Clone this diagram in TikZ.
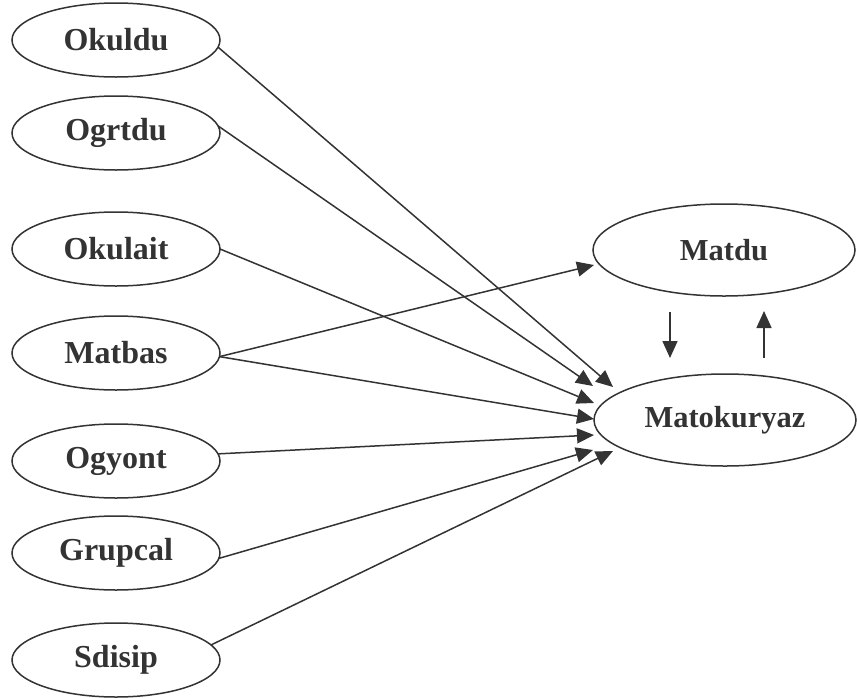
\documentclass[tikz,border=0pt]{standalone}
\usepackage{fontspec}
\setmainfont{Liberation Serif}
\usetikzlibrary{shapes.geometric,arrows.meta}
\definecolor{ink}{HTML}{333333}
\tikzset{
  var/.style={ellipse,draw=ink,line width=1.5pt,text=ink,font=\fontsize{32}{32}\selectfont\bfseries,
    minimum width=208pt,minimum height=74pt,inner sep=0pt,outer sep=0pt},
  bigvar/.style={var,minimum width=262pt,minimum height=92pt,font=\fontsize{30.5}{30.5}\selectfont\bfseries},
  path/.style={draw=ink,line width=1.5pt,-{Triangle[length=17pt,width=15pt]}}
}
\begin{document}
\begin{tikzpicture}[x=1pt,y=-1pt]
\useasboundingbox (0,0) rectangle (857,697);
\node[var] (okuldu) at (116,40) {Okuldu};
\node[var] (ogrtdu) at (116,133) {Ogrtdu};
\node[var] (okulait) at (116,249) {Okulait};
\node[var] (matbas) at (116,353) {Matbas};
\node[var] (ogyont) at (116,461) {Ogyont};
\node[var] (grupcal) at (116,553) {Grupcal};
\node[var] (sdisip) at (116,660) {Sdisip};
\node[bigvar] (matdu) at (724,250) {Matdu};
\node[bigvar] (mato) at (725,420) {Matokuryaz};
\coordinate (t1) at (613,387);
\coordinate (t2) at (593,386);
\coordinate (t3) at (594,403);
\coordinate (t4) at (594,419);
\coordinate (t5) at (594,435);
\coordinate (t6) at (593,450);
\coordinate (t7) at (613,451);
\coordinate (t0) at (594,265);
\coordinate (d1) at (670,312);
\coordinate (d2) at (670,358);
\coordinate (u1) at (764,358);
\coordinate (u2) at (764,311);
\draw[path] (okuldu.-4) -- (t1);
\draw[path] (ogrtdu.4) -- (t2);
\draw[path] (okulait.east) -- (t3);
\draw[path] (matbas.-2) -- (t0);
\draw[path] (matbas.-2) -- (t4);
\draw[path] (ogyont.4) -- (t5);
\draw[path] (grupcal.-3) -- (t6);
\draw[path] (sdisip.9) -- (t7);
\draw[path] (d1) -- (d2);
\draw[path] (u1) -- (u2);
\end{tikzpicture}
\end{document}
